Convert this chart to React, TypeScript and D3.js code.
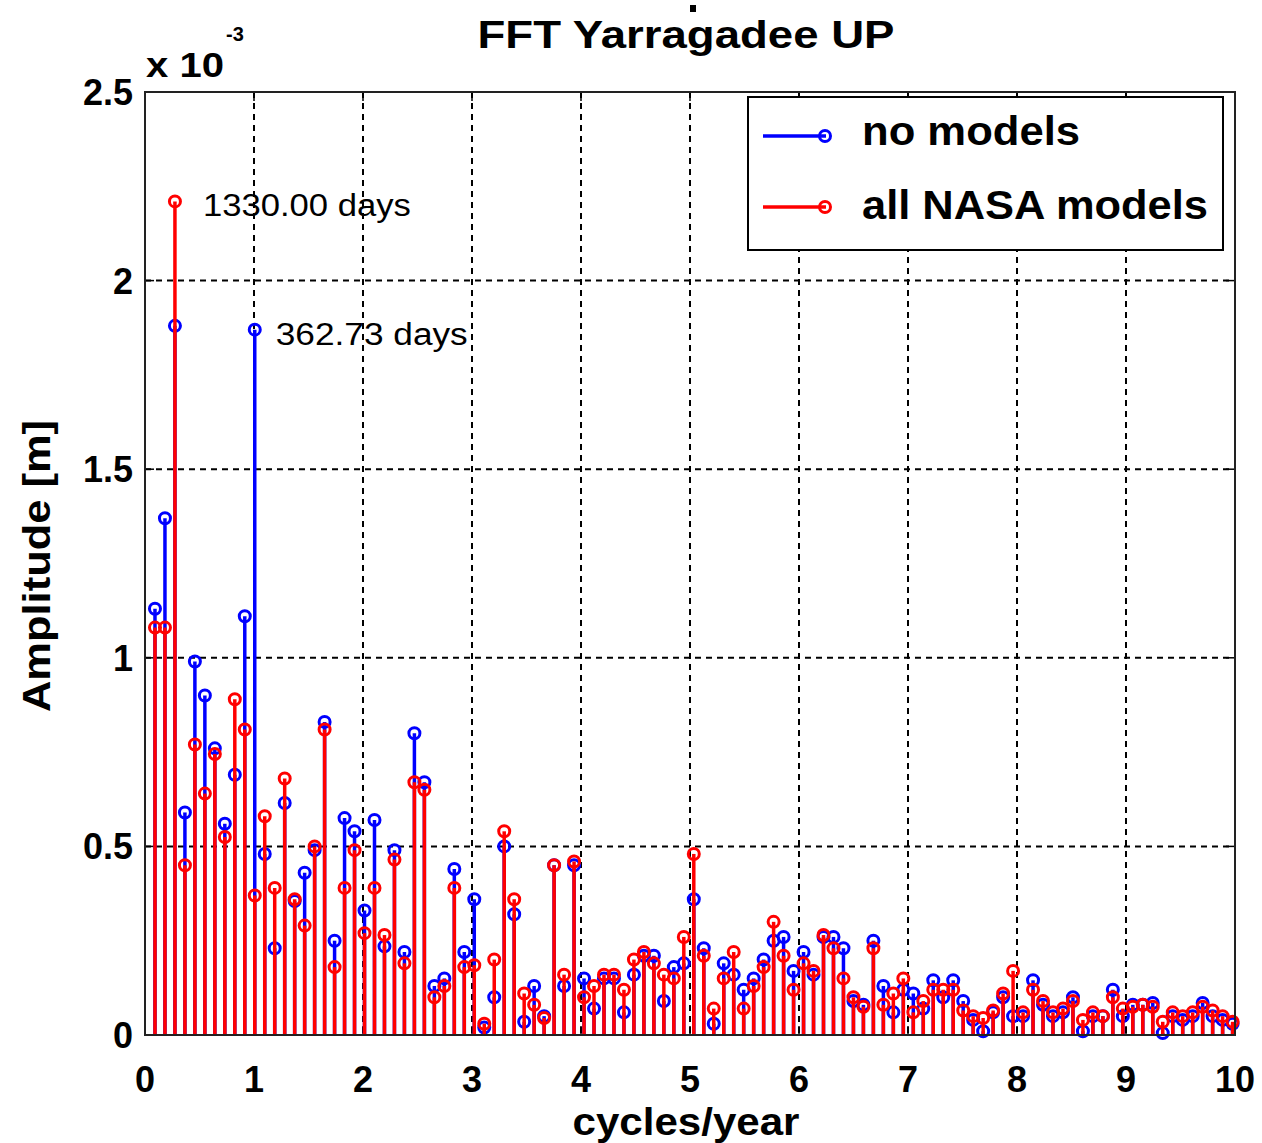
import React from "react";
import * as d3 from "d3";

// FFT bin step (cycles/year) for a 3990-day series
const FREQ_STEP = 365.25 / 3990;

// Amplitudes in units of 1e-3 m, bins k = 1..109
const noModels = [
  1.13, 1.37, 1.88, 0.59, 0.99, 0.90, 0.76, 0.56, 0.69, 1.11,
  1.87, 0.48, 0.23, 0.615, 0.355, 0.43, 0.49, 0.83, 0.25, 0.575,
  0.54, 0.33, 0.57, 0.235, 0.49, 0.22, 0.80, 0.67, 0.13, 0.15,
  0.44, 0.22, 0.36, 0.02, 0.10, 0.50, 0.32, 0.035, 0.13, 0.05,
  0.45, 0.13, 0.45, 0.15, 0.07, 0.15, 0.15, 0.06, 0.16, 0.21,
  0.21, 0.09, 0.18, 0.19, 0.36, 0.23, 0.03, 0.19, 0.16, 0.12,
  0.15, 0.20, 0.25, 0.26, 0.17, 0.22, 0.16, 0.26, 0.26, 0.23,
  0.09, 0.08, 0.25, 0.13, 0.06, 0.12, 0.11, 0.07, 0.145, 0.10,
  0.145, 0.09, 0.04, 0.01, 0.06, 0.10, 0.05, 0.05, 0.145, 0.08,
  0.05, 0.06, 0.10, 0.01, 0.05, 0.05, 0.12, 0.05, 0.08, 0.08,
  0.085, 0.005, 0.05, 0.04, 0.05, 0.085, 0.05, 0.04, 0.03,
];

const allNasa = [
  1.08, 1.08, 2.21, 0.45, 0.77, 0.64, 0.745, 0.525, 0.89, 0.81,
  0.37, 0.58, 0.39, 0.68, 0.36, 0.29, 0.50, 0.81, 0.18, 0.39,
  0.49, 0.27, 0.39, 0.265, 0.465, 0.19, 0.67, 0.65, 0.10, 0.13,
  0.39, 0.18, 0.185, 0.03, 0.20, 0.54, 0.36, 0.11, 0.08, 0.045,
  0.45, 0.16, 0.46, 0.10, 0.13, 0.16, 0.16, 0.12, 0.20, 0.22,
  0.19, 0.16, 0.15, 0.26, 0.48, 0.21, 0.07, 0.15, 0.22, 0.07,
  0.13, 0.18, 0.30, 0.21, 0.12, 0.19, 0.17, 0.265, 0.23, 0.15,
  0.10, 0.075, 0.23, 0.08, 0.11, 0.15, 0.06, 0.09, 0.12, 0.12,
  0.12, 0.065, 0.05, 0.045, 0.065, 0.11, 0.17, 0.06, 0.12, 0.09,
  0.06, 0.07, 0.09, 0.04, 0.06, 0.05, 0.10, 0.07, 0.075, 0.08,
  0.075, 0.035, 0.06, 0.05, 0.06, 0.075, 0.065, 0.05, 0.035,
];

const xTicks = [0, 1, 2, 3, 4, 5, 6, 7, 8, 9, 10];
const yTicks = [0, 0.5, 1, 1.5, 2, 2.5];
const yTickLabels = ["0", "0.5", "1", "1.5", "2", "2.5"];

const annotations = [
  { series: "red", bin: 3, text: "1330.00 days" },
  { series: "blue", bin: 11, text: "362.73 days" },
];

const FONT = "'Liberation Sans', Arial, Helvetica, sans-serif";
const BLUE = "#0000ff";
const RED = "#ff0000";

export default function App() {
  const W = 1262;
  const H = 1143;
  const L = 145, R = 1235, T = 92, B = 1035;
  const x = d3.scaleLinear().domain([0, 10]).range([L, R]);
  const y = d3.scaleLinear().domain([0, 2.5]).range([B, T]);

  const freqs = noModels.map((_, i) => (i + 1) * FREQ_STEP);

  const stems = (vals: number[], color: string) => (
    <g>
      {vals.map((v, i) => (
        <line key={"s" + i} x1={x(freqs[i])} x2={x(freqs[i])} y1={y(0)} y2={y(v)}
          stroke={color} strokeWidth={3.5} />
      ))}
      {vals.map((v, i) => (
        <circle key={"c" + i} cx={x(freqs[i])} cy={y(v)} r={5.5} fill="none"
          stroke={color} strokeWidth={3} />
      ))}
    </g>
  );

  const annLayout: Record<string, { dx: number; len: number }> = {
    "1330.00 days": { dx: 28, len: 208 },
    "362.73 days": { dx: 21, len: 192 },
  };

  return (
    <svg width={W} height={H} style={{ position: "absolute", left: 0, top: 0, background: "#fff" }}
      fontFamily={FONT}>
      <rect x={0} y={0} width={W} height={H} fill="#fff" />
      {/* grid */}
      {xTicks.slice(1, -1).map((t) => (
        <line key={"gx" + t} x1={x(t)} x2={x(t)} y1={T} y2={B} stroke="#000"
          strokeWidth={2} strokeDasharray="6,5" />
      ))}
      {yTicks.slice(1, -1).map((t) => (
        <line key={"gy" + t} x1={L} x2={R} y1={y(t)} y2={y(t)} stroke="#000"
          strokeWidth={2} strokeDasharray="6,5" />
      ))}
      {/* ticks */}
      {xTicks.map((t) => (
        <g key={"tx" + t}>
          <line x1={x(t)} x2={x(t)} y1={B} y2={B - 9} stroke="#000" strokeWidth={1.5} />
          <line x1={x(t)} x2={x(t)} y1={T} y2={T + 9} stroke="#000" strokeWidth={1.5} />
          <text x={x(t)} y={B + 57} textAnchor="middle" fontSize={36} fontWeight="bold">{t}</text>
        </g>
      ))}
      {yTicks.map((t, i) => (
        <g key={"ty" + t}>
          <line x1={L} x2={L + 9} y1={y(t)} y2={y(t)} stroke="#000" strokeWidth={1.5} />
          <line x1={R} x2={R - 9} y1={y(t)} y2={y(t)} stroke="#000" strokeWidth={1.5} />
          <text x={L - 12} y={y(t) + 13} textAnchor="end" fontSize={36} fontWeight="bold">{yTickLabels[i]}</text>
        </g>
      ))}
      {/* data */}
      {stems(noModels, BLUE)}
      {stems(allNasa, RED)}
      {/* annotations */}
      {annotations.map((a) => {
        const vals = a.series === "red" ? allNasa : noModels;
        const lay = annLayout[a.text];
        return (
          <text key={a.text} x={x(freqs[a.bin - 1]) + lay.dx} y={y(vals[a.bin - 1]) + 15}
            fontSize={31} fill="#000" textLength={lay.len} lengthAdjust="spacingAndGlyphs">{a.text}</text>
        );
      })}
      {/* frame */}
      <rect x={L} y={T} width={R - L} height={B - T} fill="none" stroke="#222" strokeWidth={2} />
      {/* exponent */}
      <text x={146} y={77} fontSize={35} fontWeight="bold" textLength={78}
        lengthAdjust="spacingAndGlyphs">x 10</text>
      <text x={226} y={41} fontSize={20} fontWeight="bold">-3</text>
      {/* title */}
      <rect x={690} y={5} width={6} height={7} fill="#000" />
      <text x={686} y={48} textAnchor="middle" fontSize={39} fontWeight="bold" textLength={417}
        lengthAdjust="spacingAndGlyphs">FFT Yarragadee UP</text>
      {/* axis labels */}
      <text x={686} y={1135} textAnchor="middle" fontSize={39} fontWeight="bold" textLength={227}
        lengthAdjust="spacingAndGlyphs">cycles/year</text>
      <text transform={`translate(50, 566) rotate(-90)`} textAnchor="middle" fontSize={39}
        fontWeight="bold" textLength={292} lengthAdjust="spacingAndGlyphs">Amplitude [m]</text>
      {/* legend */}
      <rect x={748} y={97} width={475} height={153} fill="#fff" stroke="#000" strokeWidth={2} />
      <line x1={763} x2={826} y1={136} y2={136} stroke={BLUE} strokeWidth={3.5} />
      <circle cx={825} cy={136} r={5.5} fill="none" stroke={BLUE} strokeWidth={3} />
      <text x={862} y={145} fontSize={40} fontWeight="bold" textLength={218}
        lengthAdjust="spacingAndGlyphs">no models</text>
      <line x1={763} x2={826} y1={207} y2={207} stroke={RED} strokeWidth={3.5} />
      <circle cx={825} cy={207} r={5.5} fill="none" stroke={RED} strokeWidth={3} />
      <text x={862} y={219} fontSize={40} fontWeight="bold" textLength={346}
        lengthAdjust="spacingAndGlyphs">all NASA models</text>
    </svg>
  );
}
